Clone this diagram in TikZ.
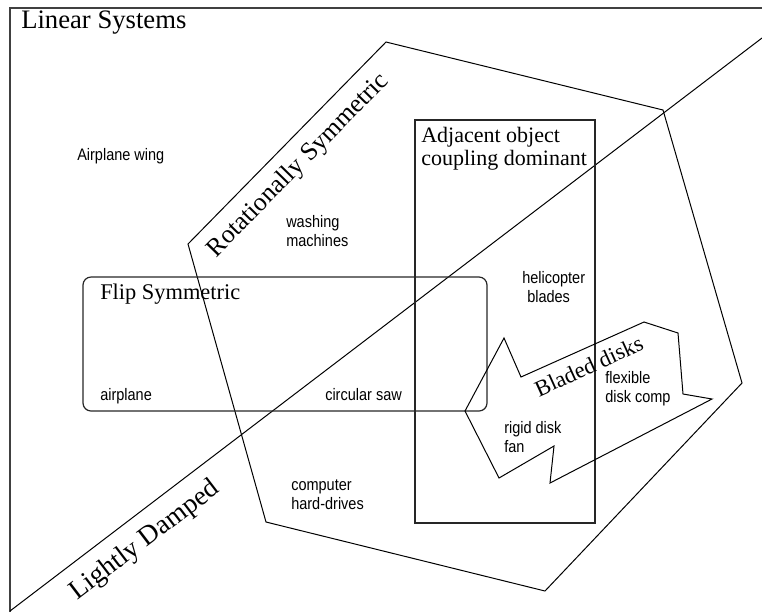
\documentclass[tikz,border=0pt]{standalone}
\usepackage{fontspec}
\setmainfont{Liberation Serif}
\newfontfamily\labfont{Liberation Sans}[FakeStretch=0.87]
\newcommand{\stacklines}[1]{\begin{tabular}[t]{@{}l@{}}#1\end{tabular}}
\begin{document}
\begin{tikzpicture}[x=0.75pt,y=-0.75pt,
  outline/.style={draw=black, line width=0.75pt, line join=miter},
  framestyle/.style={draw=black!75, line width=1pt},
  boxstyle/.style={draw=black!85, line width=0.9pt},
  small/.style={font=\labfont\fontsize{12.5}{14.8}\selectfont, inner sep=0pt, anchor=base west},
  title/.style={inner sep=0pt, anchor=base west},
  slanted/.style={inner sep=0pt, anchor=base}]
\useasboundingbox (0,0) rectangle (762,612);
% frame
\coordinate (F1) at (10,612);
\coordinate (F2) at (10,8);
\coordinate (F3) at (762,8);
\draw[framestyle] (F1) -- (F2) -- (F3);
% lightly damped divider
\coordinate (D1) at (10,611);
\coordinate (D2) at (762,38);
\draw[outline] (D1) -- (D2);
% rotationally symmetric region
\coordinate (P1) at (188,244);
\coordinate (P2) at (386,42);
\coordinate (P3) at (663,110);
\coordinate (P4) at (742,383);
\coordinate (P5) at (545,591);
\coordinate (P6) at (266,522);
\draw[outline] (P1) -- (P2) -- (P3) -- (P4) -- (P5) -- (P6) -- cycle;
% adjacent object coupling box
\coordinate (A1) at (415,120);
\coordinate (A2) at (595,523);
\draw[boxstyle] (A1) rectangle (A2);
% flip symmetric box
\coordinate (R1) at (83,277);
\coordinate (R2) at (487,411);
\draw[boxstyle, rounded corners=6pt] (R1) rectangle (R2);
% bladed disks arrow shape
\coordinate (B1) at (465,411);
\coordinate (B2) at (504,338);
\coordinate (B3) at (521,377);
\coordinate (B4) at (644,322);
\coordinate (B5) at (678,333);
\coordinate (B6) at (683,394);
\coordinate (B7) at (712,399);
\coordinate (B8) at (550,483);
\coordinate (B9) at (554,446);
\coordinate (B10) at (499,478);
\draw[outline] (B1) -- (B2) -- (B3) -- (B4) -- (B5) -- (B6) -- (B7) -- (B8) -- (B9) -- (B10) -- cycle;
% titles
\node[title, font=\fontsize{20}{22}\selectfont] (lin) at (21,28) {Linear Systems};
\node[title, font=\fontsize{16.5}{17.5}\selectfont] (adj) at (421,142) {\stacklines{Adjacent object\\coupling dominant}};
\node[title, font=\fontsize{16.8}{18}\selectfont] (flip) at (100,299) {Flip Symmetric};
\node[slanted, rotate=45.6, font=\fontsize{19.3}{21}\selectfont] (rot) at (303,170) {Rotationally Symmetric};
\node[slanted, rotate=37.3, font=\fontsize{20.5}{23}\selectfont] (damp) at (149,546) {Lightly Damped};
\node[slanted, rotate=24.5, font=\fontsize{17}{19}\selectfont] (blade) at (592,373) {Bladed disks};
% examples
\node[small] (wing) at (77,160) {Airplane wing};
\node[small] (wash) at (286,227) {\stacklines{washing\\machines}};
\node[small] (heli) at (522,283) {\stacklines{helicopter\\\hspace{3.75pt}blades}};
\node[small] (flex) at (605,383) {\stacklines{flexible\\disk comp}};
\node[small] (rigid) at (504,433) {\stacklines{rigid disk\\fan}};
\node[small] (comp) at (291,490) {\stacklines{computer\\hard-drives}};
\node[small] (airp) at (100,400) {airplane};
\node[small] (saw) at (325,400) {circular saw};
\end{tikzpicture}
\end{document}
